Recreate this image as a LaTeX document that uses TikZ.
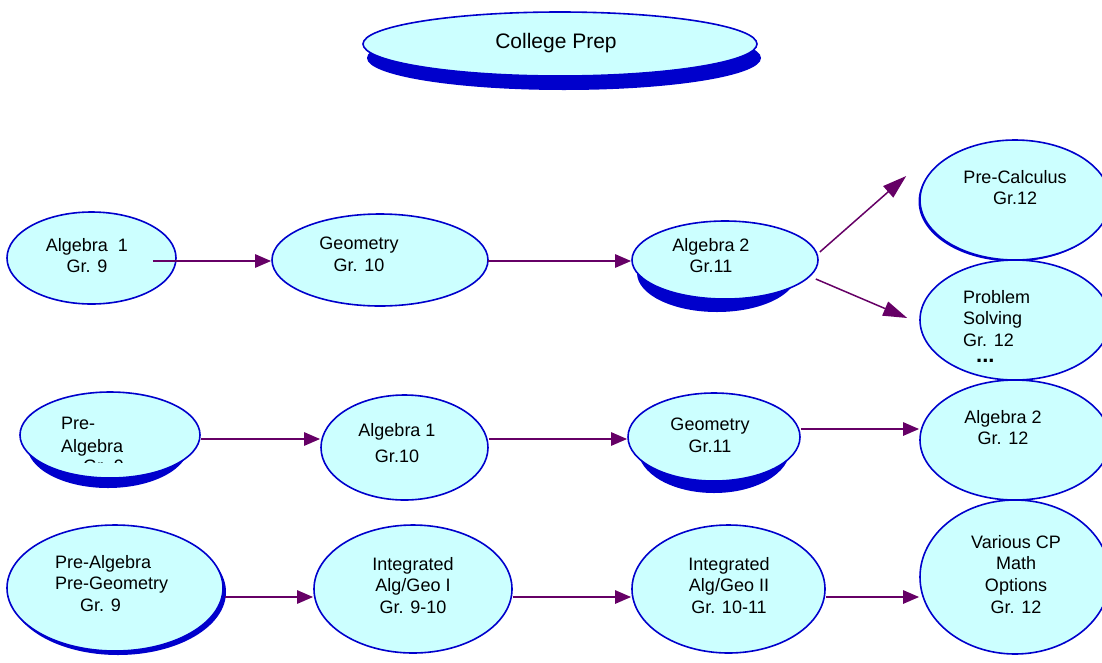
\documentclass[tikz,border=0pt]{standalone}
\usepackage{fontspec}
\setmainfont{Liberation Sans}
\usetikzlibrary{shapes.geometric,arrows.meta,calc}
\definecolor{bubfill}{HTML}{CCFFFF}
\definecolor{bord}{HTML}{0000CC}
\definecolor{arrc}{HTML}{660066}
\tikzset{
  bub/.style={ellipse, draw=bord, fill=bubfill, line width=1.6pt, inner sep=0pt},
  shadowfill/.style={fill=bord},
  txt/.style={font=\fontsize{18}{21.6}\selectfont, inner sep=0pt, anchor=north, align=center, text=black},
  ltxt/.style={txt, anchor=north west, align=left},
  arr/.style={draw=arrc, line width=2.5pt, -{Triangle[length=16pt,width=13pt]}},
  darr/.style={draw=arrc, line width=1.5pt, -{Triangle[length=24pt,width=15pt]}}
}
\begin{document}
\begin{tikzpicture}[x=1pt,y=-1pt]
\useasboundingbox (0,0) rectangle (1102,662);
\clip (0,0) rectangle (1102,662);
\fill[white] (0,0) rectangle (1102,662);

% shadows
\fill[shadowfill] (564,58) ellipse [x radius=197, y radius=32];
\fill[shadowfill] (717,273) ellipse [x radius=80, y radius=39];
\fill[shadowfill] (1013.5,201.5) ellipse [x radius=95, y radius=60];
\fill[shadowfill] (108,445) ellipse [x radius=81, y radius=43];
\fill[shadowfill] (714,449) ellipse [x radius=76, y radius=44];
\fill[shadowfill] (118,592) ellipse [x radius=108, y radius=63];

% ellipses
\node[bub, minimum width=394pt, minimum height=64pt] (cp) at (560,44) {};
\node[bub, minimum width=169pt, minimum height=92pt] (a19) at (91.5,258) {};
\node[bub, minimum width=216pt, minimum height=92pt] (geo10) at (380,260) {};
\node[bub, minimum width=186pt, minimum height=78pt] (alg211) at (725,260) {};
\node[bub, minimum width=190pt, minimum height=120pt] (precalc) at (1015,200) {};
\node[bub, minimum width=190pt, minimum height=120pt] (prob) at (1015,320) {};
\node[bub, minimum width=190pt, minimum height=120pt] (alg212) at (1015,440) {};
\node[bub, minimum width=190pt, minimum height=154pt] (various) at (1015,577) {};
\node[bub, minimum width=180pt, minimum height=86pt] (prealg) at (110,435) {};
\node[bub, minimum width=167pt, minimum height=105pt] (alg110) at (404.5,447.5) {};
\node[bub, minimum width=172pt, minimum height=88pt] (geo11) at (714,437) {};
\node[bub, minimum width=216pt, minimum height=126pt] (pp) at (115,588) {};
\node[bub, minimum width=198pt, minimum height=128pt] (int1) at (413,589) {};
\node[bub, minimum width=193pt, minimum height=128pt] (int2) at (728.5,589) {};

% texts
\node[txt, font=\fontsize{21}{25}\selectfont] (cpt) at (556,33) {College Prep};
\node[txt] (a19t) at (87,238) {Algebra\ \ 1\\Gr. 9};
\node[txt] (geo10t) at (359,237) {Geometry\\Gr. 10};
\node[txt] (alg211t) at (711,238) {Algebra 2\\Gr.11};
\node[txt] (precalct) at (1015,170) {Pre-Calculus\\Gr.12};
\node[ltxt] (probt) at (963,290) {Problem\\Solving\\Gr. 12};
\node[inner sep=0pt, anchor=base west, font=\fontsize{22}{22}\selectfont\bfseries] (dots) at (976,362) {...};
\node[ltxt] (prealgt) at (61,417) {Pre-\\[1pt]Algebra};
\begin{scope}
  \clip (0,380) rectangle (220,462.5);
  \node[ltxt] (prealgg) at (83,460) {Gr. 9};
\end{scope}
\node[txt] (alg110t) at (397,423) {Algebra 1\\[5pt]Gr.10};
\node[txt] (geo11t) at (710,418) {Geometry\\Gr.11};
\node[txt] (alg212t) at (1003,410) {Algebra 2\\Gr. 12};
\node[ltxt] (ppt) at (55,555) {Pre-Algebra\\Pre-Geometry\\\hspace*{25pt}Gr. 9};
\node[txt] (int1t) at (413,557) {Integrated\\Alg/Geo I\\Gr. 9-10};
\node[txt] (int2t) at (729,557) {Integrated\\Alg/Geo II\\Gr. 10-11};
\node[txt] (varioust) at (1016,535) {Various CP\\Math\\Options\\Gr. 12};

% connectors
\draw[arr] ($(a19.east)+(-24,3)$) coordinate (s1) -- (s1 -| geo10.west);
\draw[arr] ($(geo10.east)+(-1,1)$) coordinate (s2) -- (s2 -| alg211.west);
\draw[darr] ($(alg211.east)+(1,-8)$) -- ($(precalc.west)+(-13,-24)$);
\draw[darr] ($(alg211.east)+(-3,19)$) -- ($(prob.west)+(-12,-2)$);
\draw[arr] ($(prealg.east)+(0,4)$) coordinate (s5) -- (s5 -| alg110.west);
\draw[arr] ($(alg110.east)+(0,-8.5)$) coordinate (s6) -- (s6 -| geo11.west);
\draw[arr] ($(geo11.east)+(0,-8)$) coordinate (s7) -- (s7 -| alg212.west);
\draw[arr] ($(pp.east)+(1,9)$) coordinate (s8) -- (s8 -| int1.west);
\draw[arr] ($(int1.east)+(0,8)$) coordinate (s9) -- (s9 -| int2.west);
\draw[arr] ($(int2.east)+(0,8)$) coordinate (s10) -- (s10 -| various.west);
\end{tikzpicture}
\end{document}
